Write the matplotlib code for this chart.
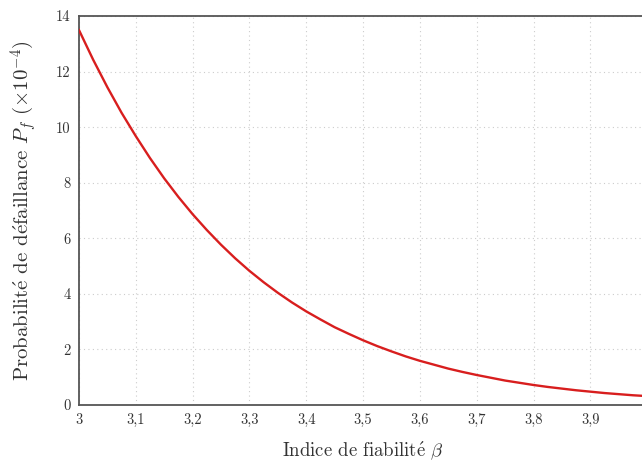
import numpy as np
from matplotlib import pyplot as plt

# reliability index and failure probability (x 1e-4)
beta = [3.000, 3.025, 3.050, 3.075, 3.100, 3.125, 3.150, 3.175, 3.200, 3.225,
        3.250, 3.275, 3.300, 3.325, 3.350, 3.375, 3.400, 3.425, 3.450, 3.475,
        3.500, 3.525, 3.550, 3.575, 3.600, 3.625, 3.650, 3.675, 3.700, 3.725,
        3.750, 3.775, 3.800, 3.825, 3.850, 3.875, 3.900, 3.925, 3.950, 3.975,
        4.000]
pf = [13.50, 12.43, 11.44, 10.52, 9.68, 8.89, 8.16, 7.49, 6.87, 6.30,
      5.77, 5.28, 4.83, 4.42, 4.04, 3.69, 3.37, 3.08, 2.80, 2.56,
      2.33, 2.12, 1.93, 1.75, 1.59, 1.45, 1.31, 1.19, 1.08, 0.98,
      0.88, 0.80, 0.72, 0.65, 0.59, 0.53, 0.48, 0.43, 0.39, 0.35,
      0.32]

xticks = [3.0, 3.1, 3.2, 3.3, 3.4, 3.5, 3.6, 3.7, 3.8, 3.9]
xticklabels = ["3", "3,1", "3,2", "3,3", "3,4", "3,5", "3,6", "3,7", "3,8", "3,9"]
yticks = [0, 2, 4, 6, 8, 10, 12, 14]

plt.rcParams['font.family'] = ['cmr10', 'DejaVu Serif']
plt.rcParams['mathtext.fontset'] = 'cm'
plt.rcParams['axes.unicode_minus'] = False

fig = plt.figure(figsize=(6.42, 4.61), dpi=100)
ax = fig.add_axes([0.123, 0.1215, 0.885, 0.8435])

ax.plot(beta, pf, color="#d81e1e", linewidth=1.7, zorder=3)

ax.set_xlim(3.0, 4.0)
ax.set_ylim(0, 14)
ax.set_xticks(xticks)
ax.set_xticklabels(xticklabels)
ax.set_yticks(yticks)
ax.tick_params(length=0, labelsize=10.5, colors="#333333", pad=6)

ax.grid(True, linestyle=(0, (1, 3)), color="#cccccc", linewidth=0.8)
for s in ax.spines.values():
    s.set_color("#555555")
    s.set_linewidth(1.3)

# cmr10 has no precomposed accented letters, so the accents go through mathtext
e_acute = r"$\acute{\mathrm{e}}$"
ax.set_xlabel("Indice de fiabilit" + e_acute + r" $\beta$", fontsize=13.5,
              color="#333333", labelpad=9)
ax.set_ylabel("Probabilit" + e_acute + " de d" + e_acute + "faillance"
              + r" $P_f$ $(\times 10^{-4})$", fontsize=15,
              color="#333333", labelpad=12)

fig.savefig("out.png", dpi=100)
